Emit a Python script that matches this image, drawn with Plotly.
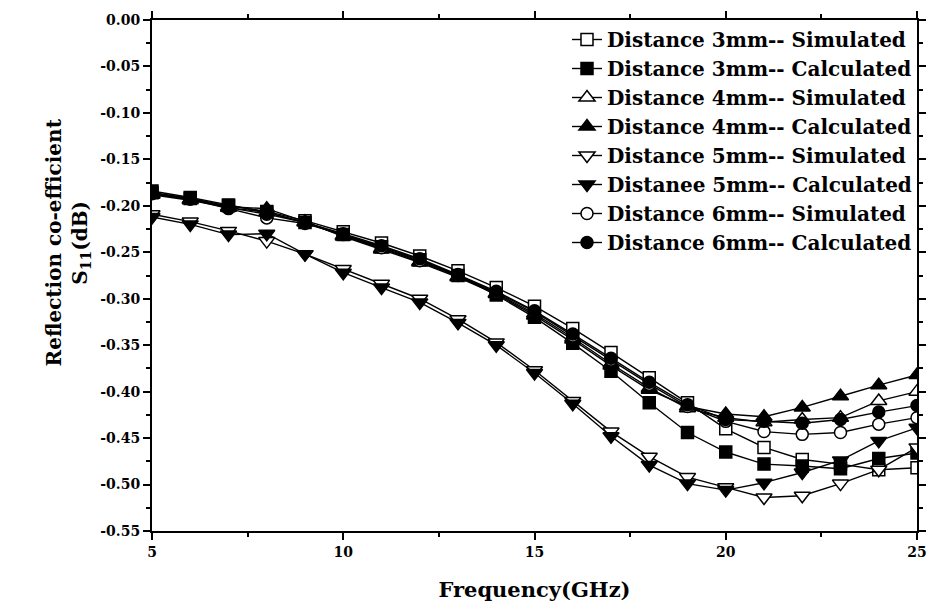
import plotly.graph_objects as go

# Frequency sweep (GHz)
freq = [5, 6, 7, 8, 9, 10, 11, 12, 13, 14, 15, 16, 17, 18, 19, 20, 21, 22, 23, 24, 25]

# S11 (dB) for each probe distance
d3_sim = [-0.186, -0.192, -0.200, -0.206, -0.216, -0.228, -0.240, -0.254, -0.270, -0.288, -0.308,
          -0.332, -0.358, -0.385, -0.412, -0.440, -0.460, -0.473, -0.478, -0.484, -0.482]
d3_calc = [-0.184, -0.191, -0.199, -0.207, -0.218, -0.231, -0.244, -0.258, -0.275, -0.296, -0.320,
           -0.348, -0.378, -0.412, -0.444, -0.465, -0.478, -0.480, -0.483, -0.472, -0.466]
d4_sim = [-0.188, -0.194, -0.202, -0.207, -0.218, -0.232, -0.246, -0.260, -0.276, -0.294, -0.316,
          -0.342, -0.370, -0.396, -0.418, -0.428, -0.433, -0.430, -0.428, -0.410, -0.400]
d4_calc = [-0.187, -0.193, -0.201, -0.203, -0.217, -0.233, -0.247, -0.261, -0.277, -0.295, -0.318,
           -0.344, -0.372, -0.398, -0.416, -0.424, -0.427, -0.417, -0.405, -0.393, -0.382]
d5_sim = [-0.209, -0.217, -0.227, -0.238, -0.252, -0.268, -0.284, -0.300, -0.322, -0.347, -0.377,
          -0.410, -0.443, -0.470, -0.492, -0.503, -0.514, -0.512, -0.499, -0.484, -0.460]
d5_calc = [-0.212, -0.220, -0.231, -0.230, -0.252, -0.272, -0.288, -0.304, -0.326, -0.350, -0.380,
           -0.413, -0.448, -0.479, -0.499, -0.506, -0.498, -0.487, -0.474, -0.453, -0.439]
d6_sim = [-0.187, -0.193, -0.203, -0.213, -0.219, -0.231, -0.245, -0.259, -0.275, -0.293, -0.314,
          -0.340, -0.366, -0.392, -0.416, -0.432, -0.443, -0.446, -0.444, -0.435, -0.428]
d6_calc = [-0.186, -0.192, -0.202, -0.209, -0.218, -0.230, -0.243, -0.257, -0.274, -0.292, -0.313,
           -0.338, -0.364, -0.390, -0.414, -0.430, -0.432, -0.434, -0.430, -0.422, -0.415]

series_names = [
    "Distance 3mm-- Simulated", "Distance 3mm-- Calculated",
    "Distance 4mm-- Simulated", "Distance 4mm-- Calculated",
    "Distance 5mm-- Simulated", "Distanee 5mm-- Calculated",
    "Distance 6mm-- Simulated", "Distance 6mm-- Calculated",
]
series_values = [d3_sim, d3_calc, d4_sim, d4_calc, d5_sim, d5_calc, d6_sim, d6_calc]
symbols = ["square", "square", "triangle-up", "triangle-up",
           "triangle-down", "triangle-down", "circle", "circle"]
filled = [False, True, False, True, False, True, False, True]

y_tickvals = [0.0, -0.05, -0.10, -0.15, -0.20, -0.25, -0.30, -0.35, -0.40, -0.45, -0.50, -0.55]
y_ticktext = ["0.00", "-0.05", "-0.10", "-0.15", "-0.20", "-0.25", "-0.30", "-0.35",
              "-0.40", "-0.45", "-0.50", "-0.55"]
x_tickvals = [5, 10, 15, 20, 25]
x_ticktext = ["5", "10", "15", "20", "25"]

FONT = "DejaVu Serif"

fig = go.Figure()
for name, vals, sym, fill in zip(series_names, series_values, symbols, filled):
    size = 14 if sym.startswith("triangle") else 12
    fig.add_trace(go.Scatter(
        x=freq, y=vals, name=name, mode="lines+markers",
        line=dict(color="black", width=1.4),
        marker=dict(symbol=sym, size=size,
                    color="black" if fill else "white",
                    line=dict(color="black", width=1.5)),
    ))

axis_common = dict(
    showline=True, linecolor="black", linewidth=2, mirror="ticks",
    ticks="outside", ticklen=7, tickwidth=1.5, tickcolor="black",
    showgrid=False, zeroline=False,
    tickfont=dict(family=FONT, size=14, color="black", weight="bold"),
)

fig.update_xaxes(
    range=[5, 25], tickvals=x_tickvals, ticktext=x_ticktext,
    minor=dict(ticks="outside", ticklen=4, tickcolor="black", dtick=2.5, tick0=5, showgrid=False),
    title=dict(text="Frequency(GHz)", font=dict(family=FONT, size=21, color="black", weight="bold"),
               standoff=24),
    **axis_common,
)
fig.update_yaxes(
    range=[-0.55, 0.0], tickvals=y_tickvals, ticktext=y_ticktext,
    minor=dict(ticks="outside", ticklen=4, tickcolor="black", dtick=0.025, tick0=0, showgrid=False),
    **axis_common,
)

# Two-line y-axis title, placed a little above the axis centre
fig.add_annotation(
    text="Reflection co-efficient<br>S<sub>11</sub>(dB)",
    xref="paper", yref="paper", x=-0.073, y=0.565,
    xanchor="right", yanchor="middle", textangle=-90, showarrow=False,
    font=dict(family=FONT, size=20, color="black", weight="bold"),
)

fig.update_layout(
    width=930, height=613,
    margin=dict(l=152, r=4, t=20, b=82),
    plot_bgcolor="white", paper_bgcolor="white",
    legend=dict(
        x=1.0, y=1.0, xanchor="right", yanchor="top",
        bgcolor="rgba(0,0,0,0)", borderwidth=0,
        font=dict(family=FONT, size=20, color="black", weight="bold"),
        tracegroupgap=0,
    ),
)

fig.write_html("out.html")
